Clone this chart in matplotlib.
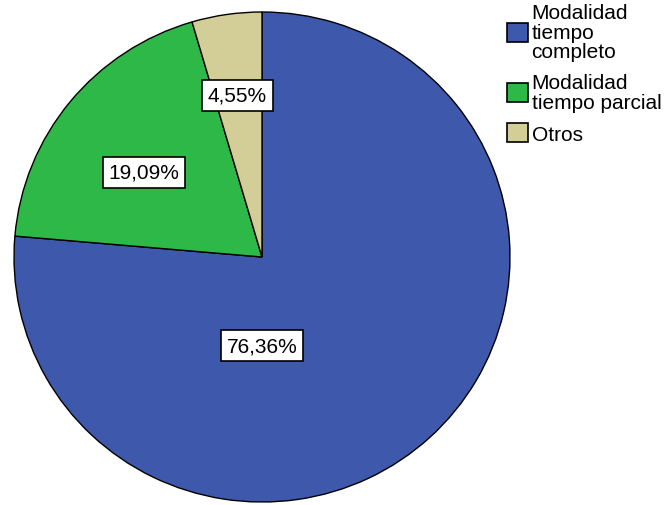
import matplotlib.pyplot as plt

# Data
categories = ['Modalidad\ntiempo\ncompleto', 'Modalidad\ntiempo parcial', 'Otros']
percentages = [76.36, 19.09, 4.55]
pct_labels = ['76,36%', '19,09%', '4,55%']
colors = ['#3E58AC', '#2EB848', '#D3CE97']

# Label positions inside the pie (data coords, radius 1)
label_xy = [(0.0, -0.362), (-0.476, 0.346), (-0.10, 0.66)]

fig = plt.figure(figsize=(6.66, 5.06), dpi=100)
ax = fig.add_axes([14 / 666, 3 / 506, 496 / 666, 490 / 506])

wedges, _ = ax.pie(percentages, colors=colors, startangle=90, counterclock=False,
                   wedgeprops={'edgecolor': 'black', 'linewidth': 1.0})
ax.set_aspect('auto')
ax.set_xlim(-1.0, 1.0)
ax.set_ylim(-1.0, 1.0)
ax.axis('off')

for (x, y), txt in zip(label_xy, pct_labels):
    ax.text(x, y, txt, ha='center', va='center', fontsize=15, family='Liberation Sans',
            bbox={'boxstyle': 'square,pad=0.28', 'facecolor': 'white', 'edgecolor': 'black',
                  'linewidth': 1.2})

leg = fig.legend(wedges, categories, loc='upper left', bbox_to_anchor=(507 / 666, 1 - 4 / 506),
                 frameon=False, prop={'family': 'Liberation Sans', 'size': 15},
                 handlelength=1.0, handleheight=1.05, handletextpad=0.18,
                 borderpad=0, borderaxespad=0, labelspacing=0.55)
for t in leg.get_texts():
    t.set_linespacing(1.05)
for h in leg.legend_handles:
    h.set_linewidth(1.2)

fig.savefig('out.png', dpi=100)
